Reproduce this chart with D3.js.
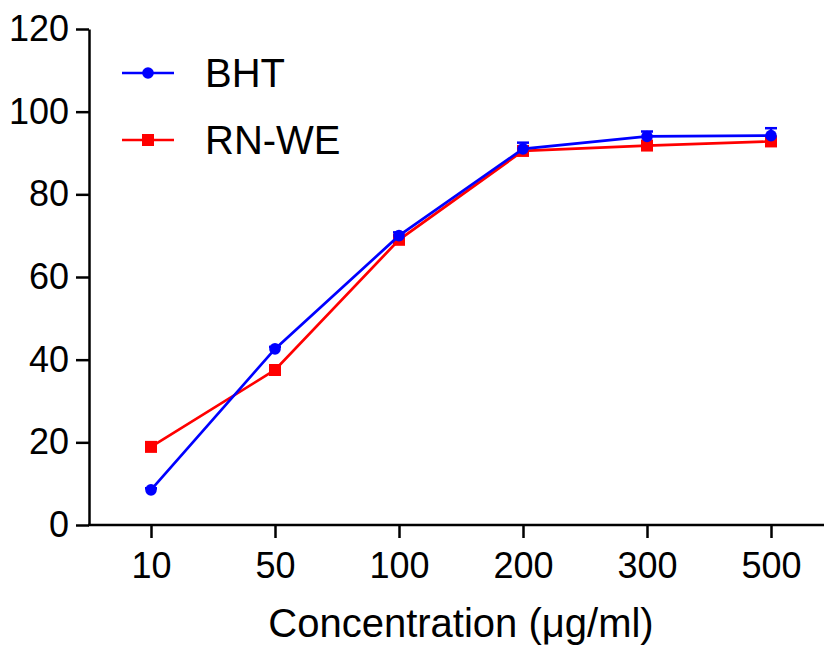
<!DOCTYPE html>
<html>
<head>
<meta charset="utf-8">
<script src="https://d3js.org/d3.v7.min.js"></script>
<style>
  body { margin: 0; background: #fff; }
  text { font-family: "Liberation Sans", Arial, sans-serif; }
</style>
</head>
<body>
<script>
// concentrations (ug/ml) shown as categories
var concentrations = ["10", "50", "100", "200", "300", "500"];
var bhtValues = [8.5, 42.6, 70.0, 91.0, 94.0, 94.2];
var bhtErrors = [0.4, 0.5, 0.8, 1.5, 1.2, 1.8];
var rnweValues = [18.9, 37.5, 69.0, 90.5, 91.8, 92.8];
var rnweErrors = [0.5, 0.5, 0.6, 0.6, 0.6, 0.6];
var yTicks = [0, 20, 40, 60, 80, 100, 120];

var width = 824, height = 646;

var svg = d3.select("body").append("svg")
  .attr("width", width)
  .attr("height", height);

var x = d3.scalePoint()
  .domain(concentrations)
  .range([89, 833])
  .padding(0.5);

var y = d3.scaleLinear()
  .domain([0, 120])
  .range([525, 29]);

// axes
var yAxis = svg.append("g")
  .attr("transform", "translate(89,0)")
  .call(d3.axisLeft(y).tickValues(yTicks).tickSize(13).tickPadding(7).tickSizeOuter(0));

var xAxis = svg.append("g")
  .attr("transform", "translate(0,525)")
  .call(d3.axisBottom(x).tickSize(13).tickPadding(14).tickSizeOuter(0));

[yAxis, xAxis].forEach(function (g) {
  g.select(".domain").attr("stroke", "#000").attr("stroke-width", 2.5);
  g.selectAll(".tick line").attr("stroke", "#000").attr("stroke-width", 2.5);
  g.selectAll(".tick text")
    .attr("fill", "#000")
    .style("font-size", "36px");
});
// extend the x axis line to the y axis
xAxis.select(".domain").attr("d", "M88,0H833");

svg.append("text")
  .attr("x", 461)
  .attr("y", 637)
  .attr("text-anchor", "middle")
  .style("font-size", "40px")
  .text("Concentration (\u03bcg/ml)");

var series = [
  { name: "RN-WE", values: rnweValues, errors: rnweErrors, color: "#ff0000", shape: "square" },
  { name: "BHT", values: bhtValues, errors: bhtErrors, color: "#0000ff", shape: "circle" }
];

var line = d3.line()
  .x(function (d, i) { return x(concentrations[i]); })
  .y(function (d) { return y(d); });

function drawMarker(g, shape, color) {
  if (shape === "circle") {
    g.append("circle").attr("r", 5.8).attr("fill", color);
  } else {
    g.append("rect").attr("x", -6).attr("y", -6).attr("width", 12).attr("height", 12).attr("fill", color);
  }
}

series.forEach(function (s) {
  var g = svg.append("g");
  // upper error bars
  s.values.forEach(function (v, i) {
    var cx = x(concentrations[i]);
    var top = y(v + s.errors[i]);
    g.append("line")
      .attr("x1", cx).attr("x2", cx)
      .attr("y1", y(v)).attr("y2", top)
      .attr("stroke", s.color).attr("stroke-width", 2.5);
    g.append("line")
      .attr("x1", cx - 6).attr("x2", cx + 6)
      .attr("y1", top).attr("y2", top)
      .attr("stroke", s.color).attr("stroke-width", 2.5);
  });
  g.append("path")
    .datum(s.values)
    .attr("fill", "none")
    .attr("stroke", s.color)
    .attr("stroke-width", 2.7)
    .attr("d", line);
  s.values.forEach(function (v, i) {
    var m = g.append("g").attr("transform", "translate(" + x(concentrations[i]) + "," + y(v) + ")");
    drawMarker(m, s.shape, s.color);
  });
});

// legend
var legendItems = [
  { name: "BHT", color: "#0000ff", shape: "circle", y: 73 },
  { name: "RN-WE", color: "#ff0000", shape: "square", y: 140 }
];
legendItems.forEach(function (d) {
  var g = svg.append("g").attr("transform", "translate(0," + d.y + ")");
  g.append("line")
    .attr("x1", 122).attr("x2", 174)
    .attr("stroke", d.color).attr("stroke-width", 2.7);
  var m = g.append("g").attr("transform", "translate(148,0)");
  drawMarker(m, d.shape, d.color);
  g.append("text")
    .attr("x", 205)
    .attr("y", 14)
    .style("font-size", "40px")
    .text(d.name);
});
</script>
</body>
</html>
